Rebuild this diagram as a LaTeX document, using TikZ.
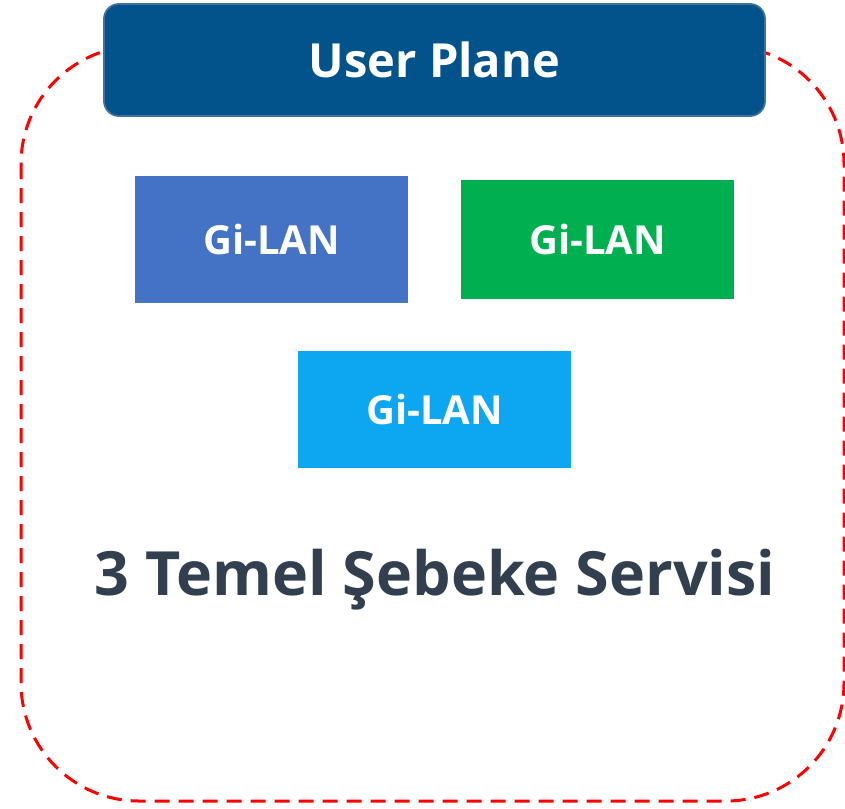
\documentclass[tikz,border=0pt]{standalone}
\usepackage{fontspec}
\setmainfont{Open Sans}
\definecolor{planeblue}{HTML}{02538B}
\definecolor{planeedge}{HTML}{41719C}
\definecolor{lanblue}{HTML}{4472C4}
\definecolor{langreen}{HTML}{00B050}
\definecolor{lancyan}{HTML}{0CA7F0}
\definecolor{titlegray}{HTML}{323F4F}
\begin{document}
\begin{tikzpicture}[x=1pt,y=-1pt,
    lanbox/.style={minimum width=273pt,inner sep=0pt,text=white,
      font=\fontsize{40}{46}\selectfont\bfseries}]
      \useasboundingbox (0,0) rectangle (845,808);
      \draw[red,line width=3pt,dash pattern=on 15pt off 9pt,rounded corners=118pt]
        (21,46) rectangle (844,801);
      \node[draw=planeedge,line width=1.8pt,fill=planeblue,rounded corners=15pt,
        minimum width=661pt,minimum height=112pt,inner sep=0pt,text=white,
        font=\fontsize{47}{54}\selectfont\bfseries] (header) at (434.5,60) {User Plane};
      \node[lanbox,fill=lanblue,minimum height=127pt] (lanA) at (271.5,239.5) {Gi-LAN};
      \node[lanbox,fill=langreen,minimum height=119pt] (lanB) at (597.5,239.5) {Gi-LAN};
      \node[lanbox,fill=lancyan,minimum height=117pt] (lanC) at (434.5,409.5) {Gi-LAN};
      \node[text=titlegray,inner sep=0pt,font=\fontsize{61}{70}\selectfont\bfseries]
        (title) at (435,580) {3 Temel Şebeke Servisi};
    \end{tikzpicture}
\end{document}
